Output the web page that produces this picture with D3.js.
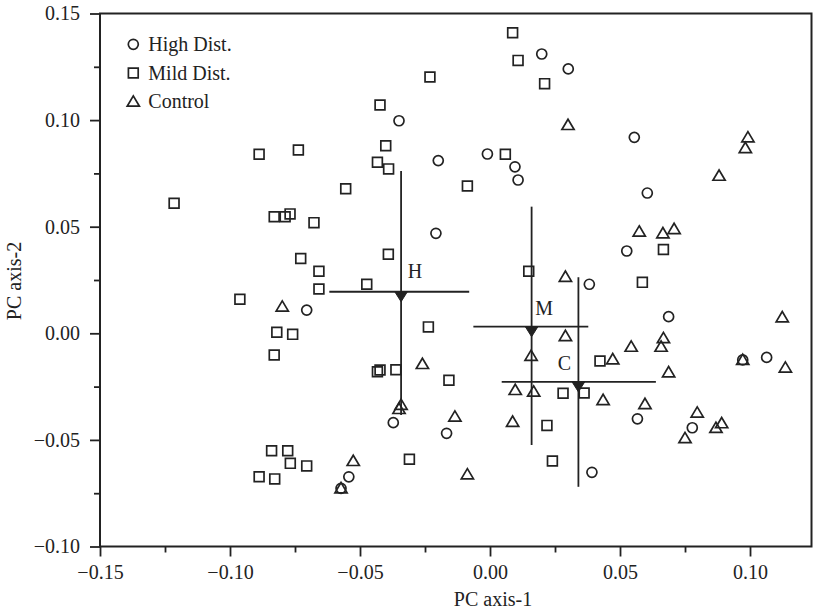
<!DOCTYPE html>
<html>
<head>
<meta charset="utf-8">
<script src="https://cdn.jsdelivr.net/npm/d3@7"></script>
<style>
  html, body { margin: 0; padding: 0; background: #fff; }
  svg { display: block; }
  text { font-family: "Liberation Serif", "Times New Roman", serif; fill: #222; }
</style>
</head>
<body>
<svg id="chart" width="814" height="611"></svg>
<script>
// ---------------- DATA ----------------
const xTicks = [-0.15, -0.10, -0.05, 0.00, 0.05, 0.10];
const yTicks = [-0.10, -0.05, 0.00, 0.05, 0.10, 0.15];
const xMinorTicks = [-0.125, -0.075, -0.025, 0.025, 0.075];
const yMinorTicks = [-0.075, -0.025, 0.025, 0.075, 0.125];

const seriesNames = ["High Dist.", "Mild Dist.", "Control"];

// High Dist. (circles) [PC1, PC2]
const highDist = [
  [-0.0350, 0.0997], [-0.0199, 0.0810], [-0.0010, 0.0841], [-0.0208, 0.0469],
  [-0.0705, 0.0109], [0.0199, 0.1310], [0.0301, 0.1240], [0.0555, 0.0919],
  [0.0096, 0.0781], [0.0108, 0.0719], [0.0605, 0.0658], [0.0526, 0.0386],
  [0.0382, 0.0230], [0.0687, 0.0078], [0.0972, -0.0125], [0.1064, -0.0113],
  [-0.0372, -0.0419], [-0.0167, -0.0469], [-0.0543, -0.0673], [-0.0573, -0.0727],
  [0.0567, -0.0401], [0.0778, -0.0443], [0.0392, -0.0652]
];

// Mild Dist. (squares)
const mildDist = [
  [-0.0423, 0.1071], [-0.0231, 0.1202], [-0.0888, 0.0840], [-0.0737, 0.0860],
  [-0.0401, 0.0880], [-0.0433, 0.0802], [-0.0390, 0.0771], [-0.1215, 0.0610],
  [-0.0830, 0.0547], [-0.0788, 0.0547], [-0.0769, 0.0560], [-0.0677, 0.0519],
  [-0.0555, 0.0678], [-0.0087, 0.0691], [-0.0728, 0.0351], [-0.0658, 0.0291],
  [-0.0658, 0.0208], [-0.0391, 0.0371], [-0.0474, 0.0230], [-0.0962, 0.0160],
  [-0.0820, 0.0005], [-0.0759, -0.0005], [-0.0237, 0.0030], [-0.0830, -0.0102],
  [-0.0423, -0.0172], [-0.0433, -0.0180], [-0.0362, -0.0171], [-0.0158, -0.0220],
  [-0.0310, -0.0591], [-0.0840, -0.0551], [-0.0778, -0.0551], [-0.0768, -0.0610],
  [-0.0705, -0.0622], [-0.0888, -0.0673], [-0.0828, -0.0683], [0.0087, 0.1410],
  [0.0108, 0.1280], [0.0210, 0.1171], [0.0059, 0.0840], [0.0667, 0.0393],
  [0.0149, 0.0291], [0.0586, 0.0239], [0.0423, -0.0130], [0.0281, -0.0281],
  [0.0362, -0.0280], [0.0219, -0.0432], [0.0240, -0.0599]
];

// Control (triangles)
const control = [
  [-0.0799, 0.0125], [-0.0342, -0.0336], [-0.0350, -0.0355], [-0.0260, -0.0144],
  [-0.0135, -0.0391], [-0.0087, -0.0662], [-0.0526, -0.0599], [-0.0573, -0.0727],
  [0.0300, 0.0977], [0.0992, 0.0919], [0.0982, 0.0869], [0.0881, 0.0739],
  [0.0574, 0.0477], [0.0665, 0.0469], [0.0708, 0.0489], [0.0290, 0.0265],
  [0.1124, 0.0075], [0.0290, -0.0013], [0.0158, -0.0106], [0.0543, -0.0063],
  [0.0667, -0.0023], [0.0658, -0.0063], [0.0472, -0.0122], [0.0687, -0.0183],
  [0.0972, -0.0125], [0.1136, -0.0161], [0.0097, -0.0266], [0.0168, -0.0274],
  [0.0435, -0.0313], [0.0596, -0.0332], [0.0087, -0.0415], [0.0797, -0.0372],
  [0.0891, -0.0422], [0.0869, -0.0444], [0.0750, -0.0492]
];

// Group means with ranges (H, M, C)
const meanLabels = ["H", "M", "C"];
const meanX = [-0.0342, 0.0160, 0.0340];
const meanY = [0.0195, 0.0031, -0.0228];
const meanXLow = [-0.0618, -0.0064, 0.0045];
const meanXHigh = [-0.0080, 0.0378, 0.0638];
const meanYLow = [-0.0383, -0.0524, -0.0720];
const meanYHigh = [0.0761, 0.0594, 0.0263];

// ---------------- CHART ----------------
(function draw() {
const svg = d3.select("#chart");
const mLeft = 100, mRight = 811.5, mTop = 13.5, mBottom = 546.5;
const ink = "#222";

const x = d3.scaleLinear().domain([-0.15, 0.12365]).range([mLeft, mRight]);
const y = d3.scaleLinear().domain([-0.10, 0.15]).range([mBottom, mTop]);
const fmt = d3.format(".2f");

// axes
const xAxis = svg.append("g").attr("transform", `translate(0,${mBottom})`)
  .call(d3.axisBottom(x).tickValues(xTicks).tickFormat(fmt).tickSize(10).tickPadding(8));
const xMinor = svg.append("g").attr("transform", `translate(0,${mBottom})`)
  .call(d3.axisBottom(x).tickValues(xMinorTicks).tickFormat("").tickSize(6));
const yAxis = svg.append("g").attr("transform", `translate(${mLeft},0)`)
  .call(d3.axisLeft(y).tickValues(yTicks).tickFormat(fmt).tickSize(10).tickPadding(10));
const yMinor = svg.append("g").attr("transform", `translate(${mLeft},0)`)
  .call(d3.axisLeft(y).tickValues(yMinorTicks).tickFormat("").tickSize(6));

[xAxis, xMinor, yAxis, yMinor].forEach(g => {
  g.select(".domain").remove();
  g.selectAll(".tick line").attr("stroke", ink).attr("stroke-width", 1.8);
  g.selectAll(".tick text").attr("font-size", 20)
    .attr("font-family", "'Liberation Serif', 'Times New Roman', serif").attr("fill", ink);
});

// frame
svg.append("rect").attr("x", mLeft).attr("y", mTop)
  .attr("width", mRight - mLeft).attr("height", mBottom - mTop)
  .attr("fill", "none").attr("stroke", ink).attr("stroke-width", 2);

// axis titles
svg.append("text").attr("x", 493).attr("y", 606).attr("text-anchor", "middle")
  .attr("font-size", 20).text("PC axis-1");
svg.append("text").attr("transform", "translate(21,281) rotate(-90)")
  .attr("text-anchor", "middle").attr("font-size", 20).text("PC axis-2");

// marker shapes
const shapes = {
  circle: "M5,0A5,5 0 1,1 -5,0A5,5 0 1,1 5,0Z",
  square: "M-4.9,-4.9H4.9V4.9H-4.9Z",
  triangle: "M0,-5.8L6.1,4.5H-6.1Z"
};
const markerStyle = sel => sel.attr("fill", "none").attr("stroke", ink).attr("stroke-width", 1.7);

const groups = [
  { data: highDist, shape: "circle" },
  { data: mildDist, shape: "square" },
  { data: control, shape: "triangle" }
];

// error crosses for means
const bars = svg.append("g");
meanLabels.forEach((lab, i) => {
  bars.append("line").attr("x1", x(meanXLow[i])).attr("x2", x(meanXHigh[i]))
    .attr("y1", y(meanY[i])).attr("y2", y(meanY[i]))
    .attr("stroke", ink).attr("stroke-width", 1.8);
  bars.append("line").attr("x1", x(meanX[i])).attr("x2", x(meanX[i]))
    .attr("y1", y(meanYHigh[i])).attr("y2", y(meanYLow[i]))
    .attr("stroke", ink).attr("stroke-width", 1.8);
});

groups.forEach(g => {
  svg.append("g").selectAll("path").data(g.data).join("path")
    .attr("d", shapes[g.shape])
    .attr("transform", d => `translate(${x(d[0])},${y(d[1])})`)
    .call(markerStyle);
});

// mean markers (filled down triangles) and labels
const labelOffsets = { H: [14, -14], M: [12.5, -11.5], C: [-14, -11.5] };
meanLabels.forEach((lab, i) => {
  const px = x(meanX[i]), py = y(meanY[i]);
  svg.append("path").attr("d", "M-6.3,0H6.3L0,10Z")
    .attr("transform", `translate(${px},${py})`)
    .attr("fill", ink).attr("stroke", ink).attr("stroke-width", 1);
  svg.append("text").attr("x", px + labelOffsets[lab][0]).attr("y", py + labelOffsets[lab][1])
    .attr("text-anchor", "middle").attr("font-size", 20).attr("fill", "#333").text(lab);
});

// legend
const legend = svg.append("g").attr("transform", "translate(133.3,44.3)");
seriesNames.forEach((name, i) => {
  const row = legend.append("g").attr("transform", `translate(0,${i * 28.7})`);
  row.append("path").attr("d", shapes[groups[i].shape]).call(markerStyle);
  row.append("text").attr("x", 15).attr("y", 6.6).attr("font-size", 20).text(name);
});
})();
</script>
</body>
</html>
